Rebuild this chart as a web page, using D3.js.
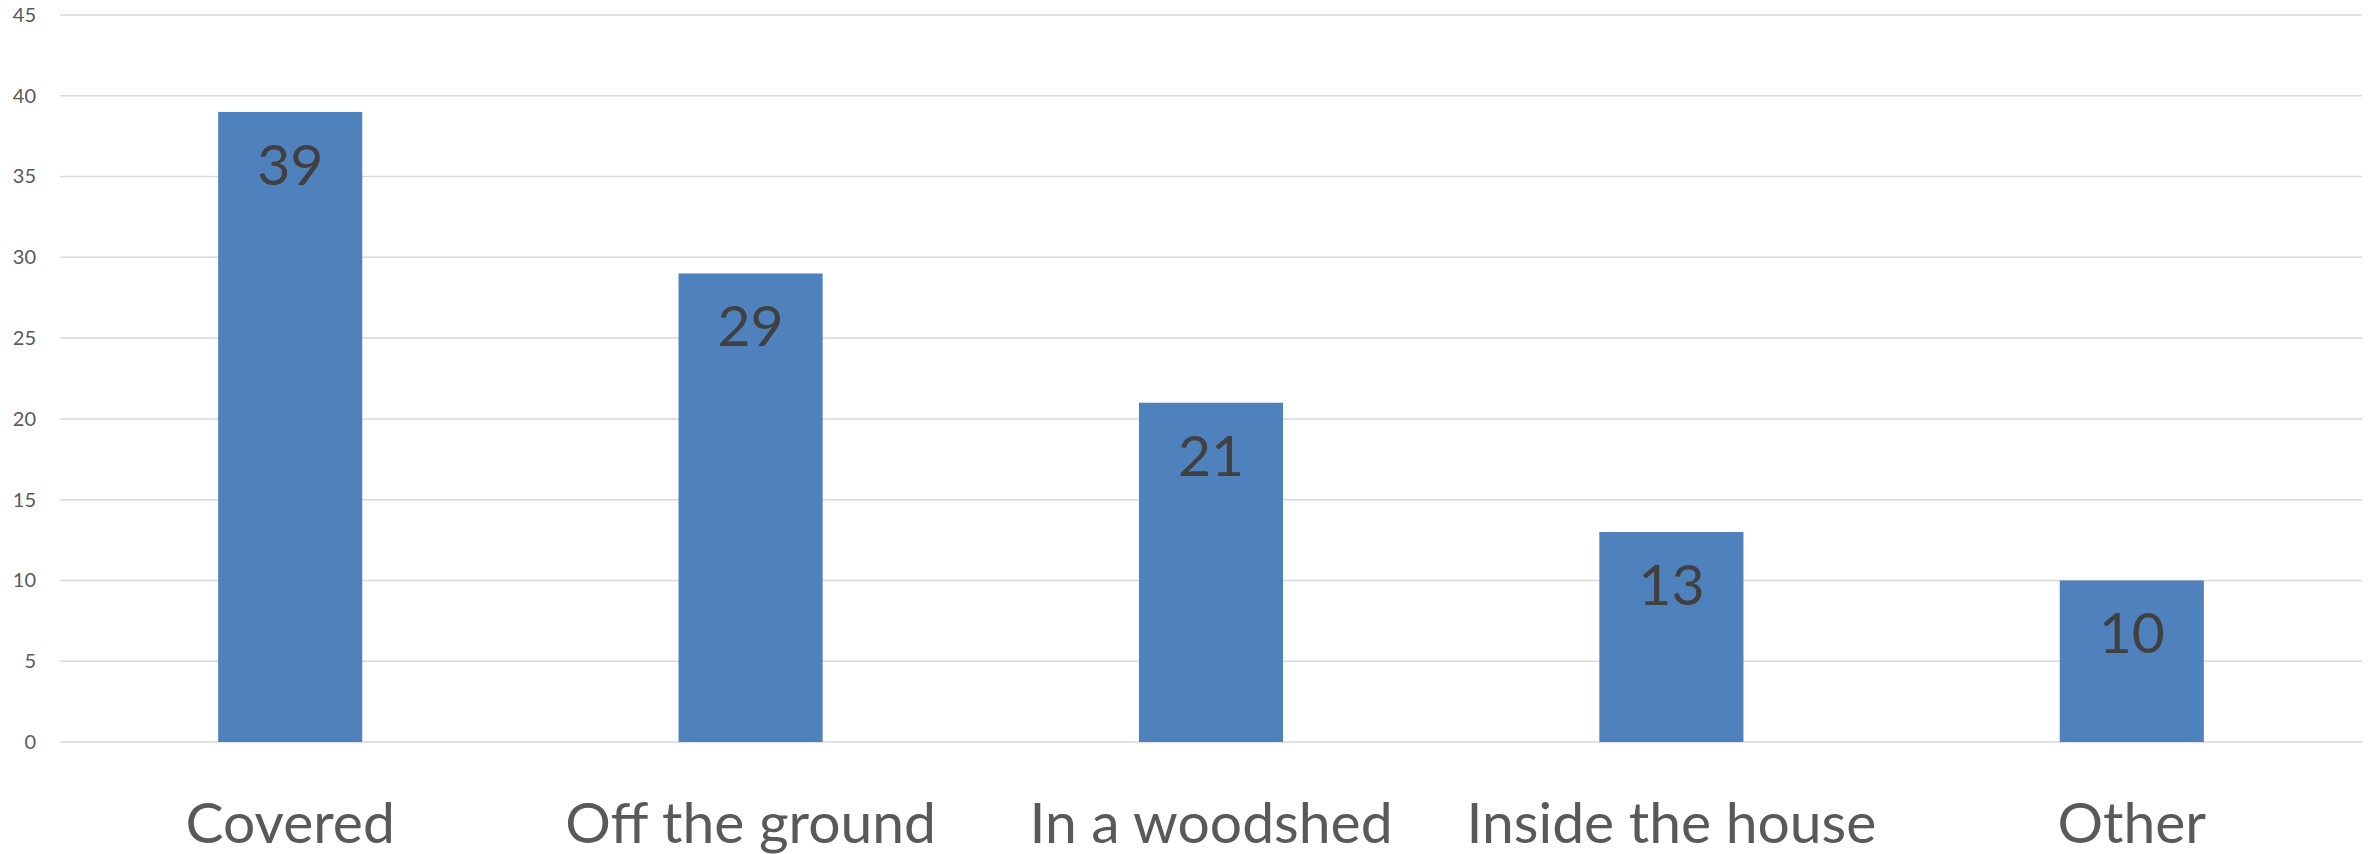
<!DOCTYPE html>
<html>
<head>
<meta charset="utf-8">
<script src="https://cdn.jsdelivr.net/npm/d3@7"></script>
<style>
  html, body { margin: 0; padding: 0; background: #ffffff; }
  svg { display: block; }
</style>
</head>
<body>
<svg id="chart" width="2369" height="854"></svg>
<script>
const categories = ["Covered", "Off the ground", "In a woodshed", "Inside the house", "Other"];
const values = [39, 29, 21, 13, 10];
const yTicks = [0, 5, 10, 15, 20, 25, 30, 35, 40, 45];

const W = 2369, H = 854;
const margin = { left: 60, right: 7, top: 15, bottom: 112 };
const FONT = "Lato, 'Open Sans', sans-serif";

const svg = d3.select("#chart");

const x = d3.scaleBand()
  .domain(categories)
  .range([margin.left, W - margin.right])
  .paddingInner(0.687)
  .paddingOuter(0.3435);

const y = d3.scaleLinear()
  .domain([0, 45])
  .range([H - margin.bottom, margin.top]);

// gridlines
svg.append("g")
  .selectAll("line")
  .data(yTicks)
  .join("line")
  .attr("x1", margin.left)
  .attr("x2", W - margin.right)
  .attr("y1", d => y(d))
  .attr("y2", d => y(d))
  .attr("stroke", "#d9d9d9")
  .attr("stroke-width", 1.5);

// y axis tick labels
const yAxis = d3.axisLeft(y).tickValues(yTicks).tickSize(0).tickPadding(0);
const gy = svg.append("g")
  .attr("transform", `translate(36,0)`)
  .call(yAxis);
gy.select(".domain").remove();
gy.selectAll("text")
  .attr("fill", "#595959")
  .style("font-family", FONT)
  .style("font-size", "20px");

// bars
svg.append("g")
  .selectAll("rect")
  .data(values)
  .join("rect")
  .attr("x", (d, i) => x(categories[i]))
  .attr("width", x.bandwidth())
  .attr("y", d => y(d))
  .attr("height", d => y(0) - y(d))
  .attr("fill", "#4f81bd");

// value labels
svg.append("g")
  .selectAll("text")
  .data(values)
  .join("text")
  .attr("x", (d, i) => x(categories[i]) + x.bandwidth() / 2)
  .attr("y", d => y(d) + 73)
  .attr("text-anchor", "middle")
  .attr("fill", "#404040")
  .style("font-family", FONT)
  .style("font-size", "57px")
  .text(d => d);

// x axis category labels
const xAxis = d3.axisBottom(x).tickSize(0).tickPadding(0);
const gx = svg.append("g")
  .attr("transform", `translate(0,${y(0)})`)
  .call(xAxis);
gx.select(".domain").remove();
gx.selectAll("text")
  .attr("dy", null)
  .attr("y", 101)
  .attr("fill", "#595959")
  .style("font-family", FONT)
  .style("font-size", "57px");
</script>
</body>
</html>
